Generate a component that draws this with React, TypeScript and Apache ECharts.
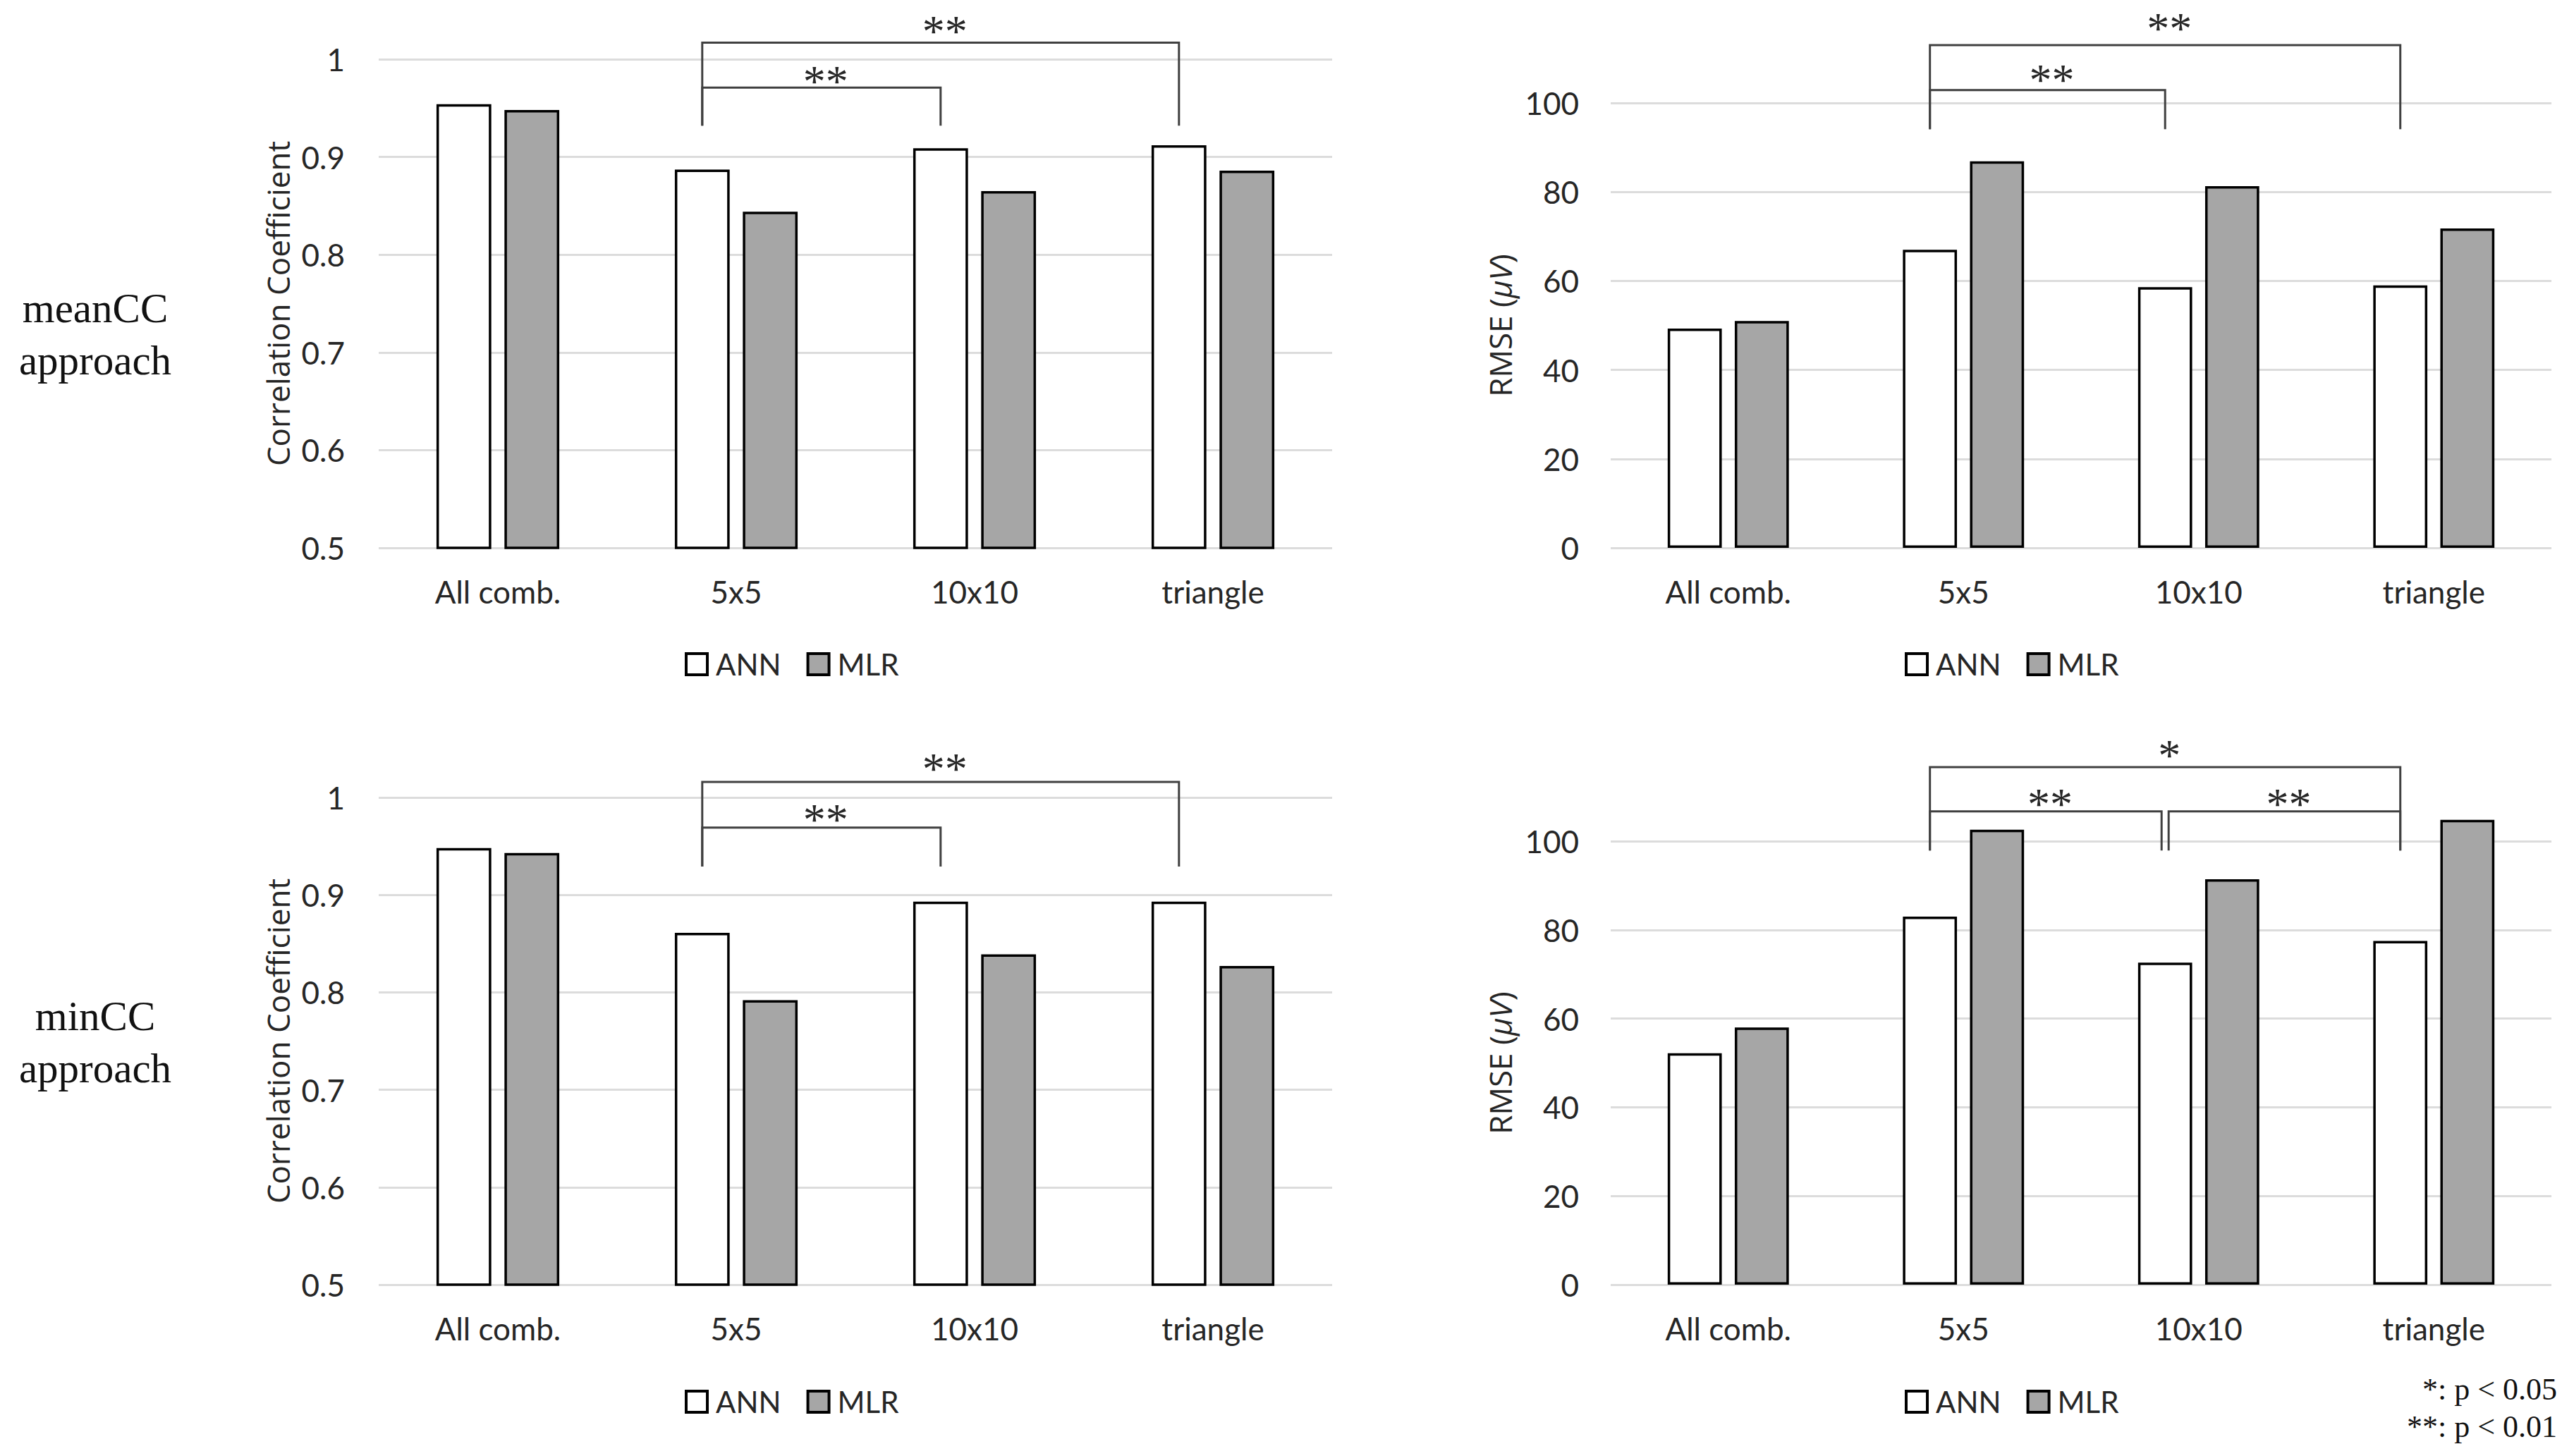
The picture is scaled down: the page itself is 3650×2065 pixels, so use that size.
import React, { useEffect, useRef } from "react";
import * as echarts from "echarts";

const CATEGORIES = ["All comb.", "5x5", "10x10", "triangle"];
const SERIES_NAMES = ["ANN", "MLR"];

const MEAN_CC_ANN = [0.954, 0.887, 0.909, 0.912];
const MEAN_CC_MLR = [0.948, 0.844, 0.865, 0.886];
const MEAN_RMSE_ANN = [49.3, 67.0, 58.6, 59.0];
const MEAN_RMSE_MLR = [51.0, 86.9, 81.3, 71.8];
const MIN_CC_ANN = [0.948, 0.861, 0.893, 0.893];
const MIN_CC_MLR = [0.943, 0.792, 0.839, 0.827];
const MIN_RMSE_ANN = [52.2, 83.0, 72.6, 77.5];
const MIN_RMSE_MLR = [58.0, 102.6, 91.4, 104.8];

const CC_TICKS = { min: 0.5, max: 1, interval: 0.1 };
const RMSE_TICKS = { min: 0, max: 100, interval: 20 };

const MEAN_CC_BRACKETS = [
  { from: 1, to: 2, level: 0.971, leg: 0.932, star: 0.984, label: "**" },
  { from: 1, to: 3, level: 1.017, leg: 0.932, star: 1.035, label: "**" },
];
const MEAN_RMSE_BRACKETS = [
  { from: 1, to: 2, level: 102.9, leg: 94.1, star: 106.5, label: "**" },
  { from: 1, to: 3, level: 113.0, leg: 94.1, star: 118.1, label: "**" },
];
const MIN_CC_BRACKETS = [
  { from: 1, to: 2, level: 0.969, leg: 0.929, star: 0.984, label: "**" },
  { from: 1, to: 3, level: 1.016, leg: 0.929, star: 1.036, label: "**" },
];
const MIN_RMSE_BRACKETS = [
  { from: 1, to: 2, level: 106.7, leg: 97.9, star: 109.7, label: "**" },
  { from: 2, to: 3, level: 106.7, leg: 97.9, star: 109.7, label: "**" },
  { from: 1, to: 3, level: 116.7, leg: 97.9, star: 120.8, label: "*" },
];

const ROW_LABELS = ["meanCC\napproach", "minCC\napproach"];
const FOOTNOTES = ["*: p < 0.05", "**: p < 0.01"];

const BAR_W = 0.23;
const BAR_GAP = 0.24;
const SANS = "Lato, 'Open Sans', sans-serif";
const TITLE_SANS = "'Open Sans', Lato, sans-serif";
const SERIF = "'Liberation Serif', 'Times New Roman', serif";
const TEXT = "#262626";

type Bracket = { from: number; to: number; level: number; leg: number; star: number; label: string };

const PANELS = [
  { grid: { left: 537, top: 84, width: 1352, height: 693 }, ticks: CC_TICKS, ann: MEAN_CC_ANN, mlr: MEAN_CC_MLR, brackets: MEAN_CC_BRACKETS, cc: true, legend: { left: 971, top: 921 } },
  { grid: { left: 2284, top: 146, width: 1334, height: 631 }, ticks: RMSE_TICKS, ann: MEAN_RMSE_ANN, mlr: MEAN_RMSE_MLR, brackets: MEAN_RMSE_BRACKETS, cc: false, legend: { left: 2701, top: 921 } },
  { grid: { left: 537, top: 1131, width: 1352, height: 691 }, ticks: CC_TICKS, ann: MIN_CC_ANN, mlr: MIN_CC_MLR, brackets: MIN_CC_BRACKETS, cc: true, legend: { left: 971, top: 1967 } },
  { grid: { left: 2284, top: 1193, width: 1334, height: 629 }, ticks: RMSE_TICKS, ann: MIN_RMSE_ANN, mlr: MIN_RMSE_MLR, brackets: MIN_RMSE_BRACKETS, cc: false, legend: { left: 2701, top: 1967 } },
];

function bracketSeries(idx: number, brackets: Bracket[]) {
  return {
    type: "custom",
    xAxisIndex: idx,
    yAxisIndex: idx,
    silent: true,
    z: 5,
    clip: false,
    data: brackets.map((b) => [b.from, b.level, b.to, b.leg, b.star]),
    encode: { x: [0, 2], y: [1, 3, 4] },
    renderItem: (params: any, api: any) => {
      const b = brackets[params.dataIndex];
      const band = api.size([1, 0])[0];
      const off = (-band * BAR_W * (1 + BAR_GAP)) / 2;
      const p0 = api.coord([api.value(0), api.value(1)]);
      const p1 = api.coord([api.value(2), api.value(1)]);
      const yLeg = api.coord([api.value(0), api.value(3)])[1];
      const yStar = api.coord([api.value(0), api.value(4)])[1];
      let x0 = p0[0] + off;
      let x1 = p1[0] + off;
      brackets.forEach((o, j) => {
        if (j === params.dataIndex || o.level !== b.level) return;
        if (o.from === b.to) x1 -= 5;
        if (o.to === b.from) x0 += 5;
      });
      const y = p0[1];
      return {
        type: "group",
        children: [
          {
            type: "polyline",
            shape: { points: [[x0, yLeg], [x0, y], [x1, y], [x1, yLeg]] },
            style: { stroke: "#404040", lineWidth: 3, fill: null },
          },
          {
            type: "text",
            x: (x0 + x1) / 2 + 6,
            y: yStar + 9,
            style: {
              text: b.label,
              fill: TEXT,
              fontSize: 64,
              fontFamily: SERIF,
              align: "center",
              verticalAlign: "middle",
            },
          },
        ],
      };
    },
  };
}

export default function App() {
  const ref = useRef<HTMLDivElement>(null);
  useEffect(() => {
    if (!ref.current) return;
    const chart = echarts.init(ref.current, undefined, { renderer: "svg" });
    const series: any[] = [];
    PANELS.forEach((p, i) => {
      series.push({
        name: SERIES_NAMES[0],
        type: "bar",
        xAxisIndex: i,
        yAxisIndex: i,
        data: p.ann,
        barWidth: `${BAR_W * 100}%`,
        barGap: `${BAR_GAP * 100}%`,
        clip: p.cc,
        itemStyle: { color: "#ffffff", borderColor: "#000000", borderWidth: 3.5 },
      });
      series.push({
        name: SERIES_NAMES[1],
        type: "bar",
        xAxisIndex: i,
        yAxisIndex: i,
        data: p.mlr,
        barWidth: `${BAR_W * 100}%`,
        barGap: `${BAR_GAP * 100}%`,
        clip: p.cc,
        itemStyle: { color: "#a6a6a6", borderColor: "#000000", borderWidth: 3.5 },
      });
      series.push(bracketSeries(i, p.brackets));
    });

    const option: any = {
      animation: false,
      backgroundColor: "#ffffff",
      grid: PANELS.map((p) => ({ ...p.grid, containLabel: false })),
      xAxis: PANELS.map((p, i) => ({
        type: "category",
        gridIndex: i,
        data: CATEGORIES,
        axisLine: { show: false },
        axisTick: { show: false },
        axisLabel: { margin: 40, fontSize: 44, fontFamily: SANS, color: TEXT },
      })),
      yAxis: PANELS.map((p, i) => ({
        type: "value",
        gridIndex: i,
        min: p.ticks.min,
        max: p.ticks.max,
        interval: p.ticks.interval,
        axisLine: { show: false },
        axisTick: { show: false },
        splitLine: { lineStyle: { color: "#dcdcdc", width: 3 } },
        axisLabel: { margin: p.cc ? 48 : 45, fontSize: 44, fontFamily: SANS, color: TEXT },
        name: p.cc ? "Correlation Coefficient" : "RMSE ({i|μV})",
        nameLocation: "middle",
        nameGap: p.cc ? 121 : 135,
        nameTextStyle: {
          fontSize: 44,
          fontFamily: TITLE_SANS,
          color: TEXT,
          rich: { i: { fontSize: 44, fontFamily: TITLE_SANS, fontStyle: "italic", color: TEXT } },
        },
      })),
      legend: PANELS.map((p) => ({
        data: SERIES_NAMES,
        left: p.legend.left,
        top: p.legend.top,
        padding: 0,
        orient: "horizontal",
        icon: "rect",
        itemWidth: 30,
        itemHeight: 30,
        itemGap: 36,
        selectedMode: false,
        itemStyle: { borderWidth: 4 },
        textStyle: { fontSize: 42, fontFamily: SANS, color: TEXT, padding: [0, 0, 0, 7] },
      })),
      graphic: [
        ...ROW_LABELS.map((t, i) => ({
          type: "text",
          x: 135,
          y: i === 0 ? 474 : 1478,
          style: {
            text: t,
            fontSize: 59,
            lineHeight: 74,
            fontFamily: SERIF,
            fill: "#111111",
            align: "center",
            verticalAlign: "middle",
          },
        })),
        ...FOOTNOTES.map((t, i) => ({
          type: "text",
          x: 3626,
          y: 1970 + i * 53,
          style: {
            text: t,
            fontSize: 44,
            fontFamily: SERIF,
            fill: "#111111",
            align: "right",
            verticalAlign: "middle",
          },
        })),
      ],
      series,
    };
    chart.setOption(option);
    return () => chart.dispose();
  }, []);
  return (
    <div
      ref={ref}
      style={{ position: "fixed", left: 0, top: 0, width: "3650px", height: "2065px", background: "#fff" }}
    />
  );
}
